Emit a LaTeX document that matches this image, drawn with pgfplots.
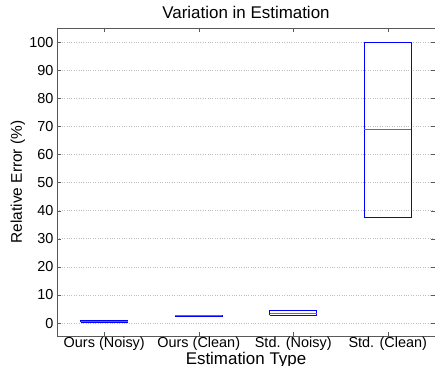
\documentclass[border=0pt]{standalone}
\usepackage{pgfplots}
\pgfplotsset{compat=1.18}
\usepackage{fontspec}
\setmainfont{Liberation Sans}
\begin{document}
\begin{tikzpicture}
\begin{axis}[
  at={(57bp,30bp)}, anchor=south west,
  scale only axis, width=378bp, height=308bp,
  xmin=0.5, xmax=4.5, ymin=-4.6, ymax=105,
  xtick={1,2,3,4},
  xticklabels={Ours (Noisy), Ours (Clean), Std. (Noisy), Std. (Clean)},
  ytick={0,10,20,30,40,50,60,70,80,90,100},
  tick align=inside, xtick pos=both, ytick pos=both,
  major tick length=4bp,
  ymajorgrids, major grid style={dotted, gray!50, line width=0.6pt},
  axis line style={gray!70!black, line width=0.6pt},
  tick style={gray!70!black},
  /pgf/number format/assume math mode=true,
  ticklabel style={font=\fontsize{14.5}{16}\selectfont},
  xticklabel style={yshift=2bp},
  title={Variation in Estimation},
  title style={font=\fontsize{17}{19}\selectfont, at={(axis description cs:0.5,1)}, anchor=base, yshift=3.5bp},
  xlabel={Estimation Type},
  ylabel={Relative Error (\%)},
  xlabel style={font=\fontsize{17}{19}\selectfont, at={(axis description cs:0.5,0)}, anchor=base, yshift=-28bp},
  ylabel style={font=\fontsize{15.5}{17}\selectfont, at={(axis description cs:-0.1032,0.5)}, anchor=center},
]
% box outlines (quartiles) and medians
\addplot[blue, line width=0.9pt] coordinates {(0.75,0.4) (1.25,0.4) (1.25,0.8) (0.75,0.8) (0.75,0.4)};
\addplot[red!80, line width=0.6pt] coordinates {(0.75,0.6) (1.25,0.6)};
\addplot[blue, line width=0.9pt] coordinates {(1.75,2.5) (2.25,2.5) (2.25,2.7) (1.75,2.7) (1.75,2.5)};
\addplot[red!80, line width=0.6pt] coordinates {(1.75,2.6) (2.25,2.6)};
\addplot[blue, line width=0.9pt] coordinates {(2.75,2.7) (3.25,2.7) (3.25,4.6) (2.75,4.6) (2.75,2.7)};
\addplot[red!80, line width=0.6pt] coordinates {(2.75,3.4) (3.25,3.4)};
\addplot[blue, line width=0.9pt] coordinates {(3.75,37.6) (4.25,37.6) (4.25,100) (3.75,100) (3.75,37.6)};
\addplot[red!80, line width=0.6pt] coordinates {(3.75,69) (4.25,69)};
\end{axis}
\pgfresetboundingbox
\useasboundingbox (0,0) rectangle (435bp,366bp);
\end{tikzpicture}
\end{document}
